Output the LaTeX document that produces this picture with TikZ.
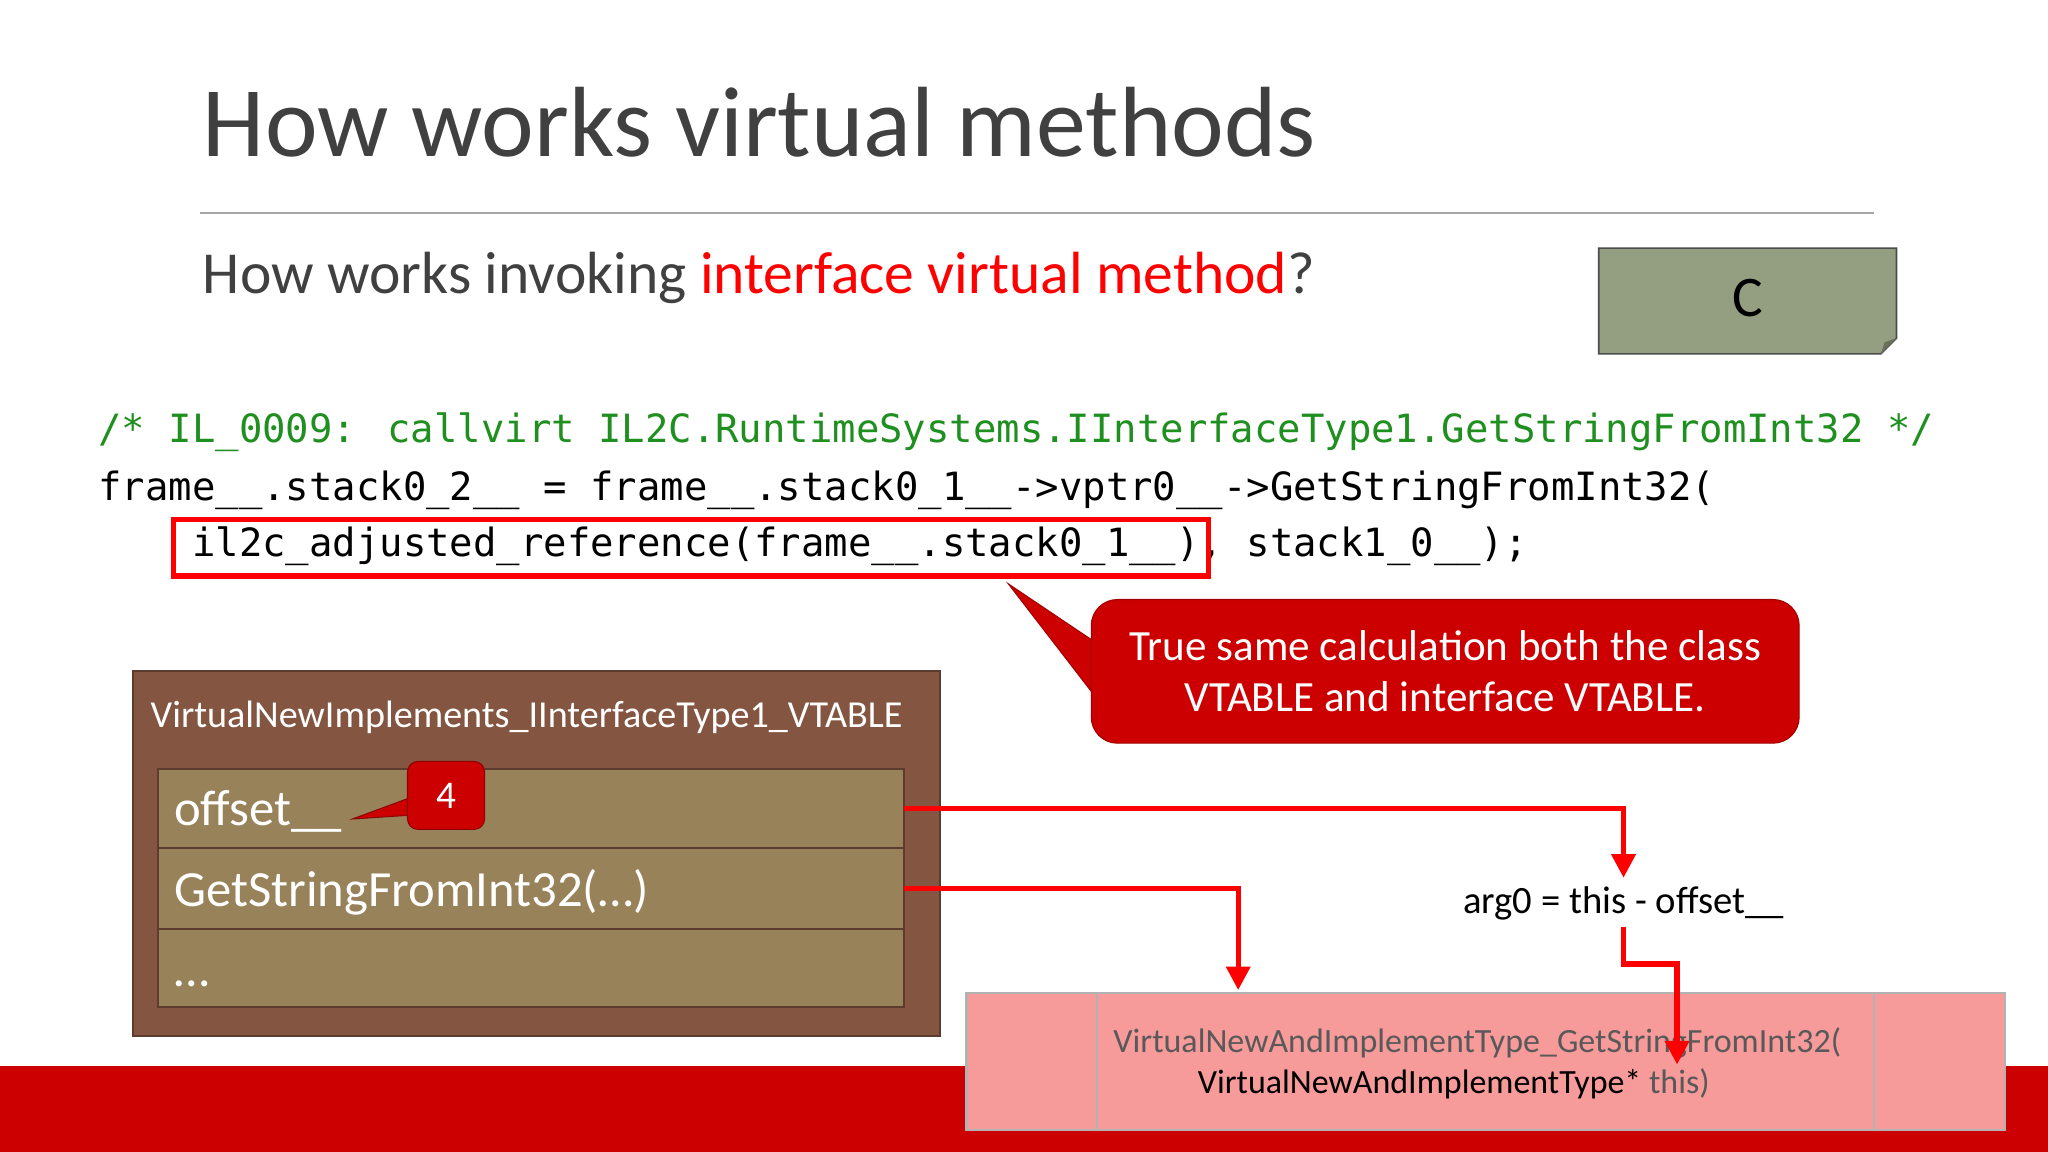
\documentclass[tikz,border=0pt]{standalone}
\usepackage{fontspec}
\setmainfont{Carlito}
\newfontfamily\codefont{DejaVu Sans Mono}
\usetikzlibrary{arrows.meta}
\definecolor{ttl}{HTML}{404040}
\definecolor{codegreen}{HTML}{1F8F1F}
\definecolor{sage}{HTML}{949E80}
\definecolor{brownbox}{HTML}{845642}
\definecolor{rowfill}{HTML}{98825A}
\definecolor{calred}{HTML}{CC0000}
\definecolor{pinkbox}{HTML}{F79A9A}
\definecolor{graytxt}{HTML}{595959}
\tikzset{
  redarrow/.style={draw=red, line width=2pt, -{Triangle[length=9pt,width=9pt]}},
  rowbox/.style={fill=rowfill, draw=brownbox!70!black, line width=0.8pt},
  codetext/.style={anchor=base west, inner sep=0pt, font=\codefont\fontsize{14.9}{16}\selectfont},
}
\begin{document}
\begin{tikzpicture}[x=0.5pt,y=-0.5pt]
\useasboundingbox (0,0) rectangle (1568,882);
\fill[white] (0,0) rectangle (1568,882);
\fill[calred] (0,816) rectangle (1568,882);
% title
\node[anchor=base west, inner sep=0pt, text=ttl, font=\fontsize{38.2}{42}\selectfont] (title) at (155,120) {How works virtual methods};
\draw[gray!70, line width=0.6pt] (153,163) -- (1435,163);
\node[anchor=base west, inner sep=0pt, text=ttl, font=\fontsize{22.8}{26}\selectfont] (sub) at (155,225) {How works invoking \textcolor{red}{interface virtual method}?};
% C box
\fill[sage, draw=gray!60!black, line width=0.6pt] (1224,190) -- (1452,190) -- (1452,259) -- (1440,271) -- (1224,271) -- cycle;
\fill[sage!70!black] (1440,271) -- (1443,262) -- (1452,259) -- cycle;
\node[font=\fontsize{22}{24}\selectfont] (c) at (1338,228) {C};
% code
\node[codetext, text=codegreen] (l1) at (75,339) {/* IL\_0009: callvirt IL2C.RuntimeSystems.IInterfaceType1.GetStringFromInt32 */};
\node[codetext] (l2) at (75,383) {frame\_\_.stack0\_2\_\_ = frame\_\_.stack0\_1\_\_->vptr0\_\_->GetStringFromInt32(};
\node[codetext] (l3) at (75,426) {\phantom{aaaa}il2c\_adjusted\_reference(frame\_\_.stack0\_1\_\_), stack1\_0\_\_);};
\draw[red, line width=2pt] (133,398) rectangle (925,441);
% callout
\fill[calred, draw=calred!80!black] (772,447) -- (836,490) -- (836,530) -- cycle;
\node[fill=calred, draw=calred!80!black, rounded corners=10pt, minimum width=271pt, minimum height=55pt, text=white, align=center, font=\fontsize{16.5}{19.5}\selectfont] (call) at (1106.5,514) {True same calculation both the class\\VTABLE and interface VTABLE.};
% vtable
\fill[brownbox, draw=brownbox!70!black, line width=0.8pt] (102,514) rectangle (720,793);
\node[anchor=base west, inner sep=0pt, text=white, font=\fontsize{14.6}{16}\selectfont] (vt) at (115,557) {VirtualNewImplements\_IInterfaceType1\_VTABLE};
\draw[rowbox] (121,589) rectangle (692,649);
\draw[rowbox] (121,649) rectangle (692,711);
\draw[rowbox] (121,711) rectangle (692,771);
\node[anchor=base west, inner sep=0pt, text=white, font=\fontsize{19.4}{22}\selectfont] (off) at (133,632) {offset\_\_};
\node[anchor=base west, inner sep=0pt, text=white, font=\fontsize{19.4}{22}\selectfont] (gs) at (133,694) {GetStringFromInt32(…)};
\node[anchor=base west, inner sep=0pt, text=white, font=\fontsize{19.4}{22}\selectfont] (dots) at (133,755) {…};
% callout 4
\fill[calred, draw=calred!70!black] (270,627) -- (316,610) -- (316,624) -- cycle;
\node[fill=calred, draw=calred!70!black, rounded corners=4pt, minimum width=29.5pt, minimum height=26pt, text=white, font=\fontsize{15}{17}\selectfont] (four) at (341.5,609) {4};
% bottom box
\fill[pinkbox, draw=gray!60, line width=0.8pt] (740,760) rectangle (1535,865);
\draw[gray!60, line width=0.8pt] (840,760) -- (840,865) (1435,760) -- (1435,865);
\node[anchor=base, inner sep=0pt, text=graytxt, font=\fontsize{13}{15}\selectfont] (fn1) at (1131,806) {VirtualNewAndImplementType\_GetStringFromInt32(};
\node[anchor=base, inner sep=0pt, font=\fontsize{13}{15}\selectfont] (fn2) at (1113,837) {VirtualNewAndImplementType* \textcolor{graytxt}{this)}};
% label and arrows
\node[font=\fontsize{14.8}{16}\selectfont, inner sep=2pt] (arg) at (1243,692) {arg0 = this - offset\_\_};
\coordinate (o1) at (692,619);
\coordinate (o2) at (692,680);
\coordinate (t1) at (1243,672);
\coordinate (t2) at (948,758);
\coordinate (t3) at (1284,815);
\draw[redarrow] (o1) -| (t1);
\draw[redarrow] (o2) -| (t2);
\draw[redarrow] (1243,710) |- (1284,738) -- (t3);
\end{tikzpicture}
\end{document}
